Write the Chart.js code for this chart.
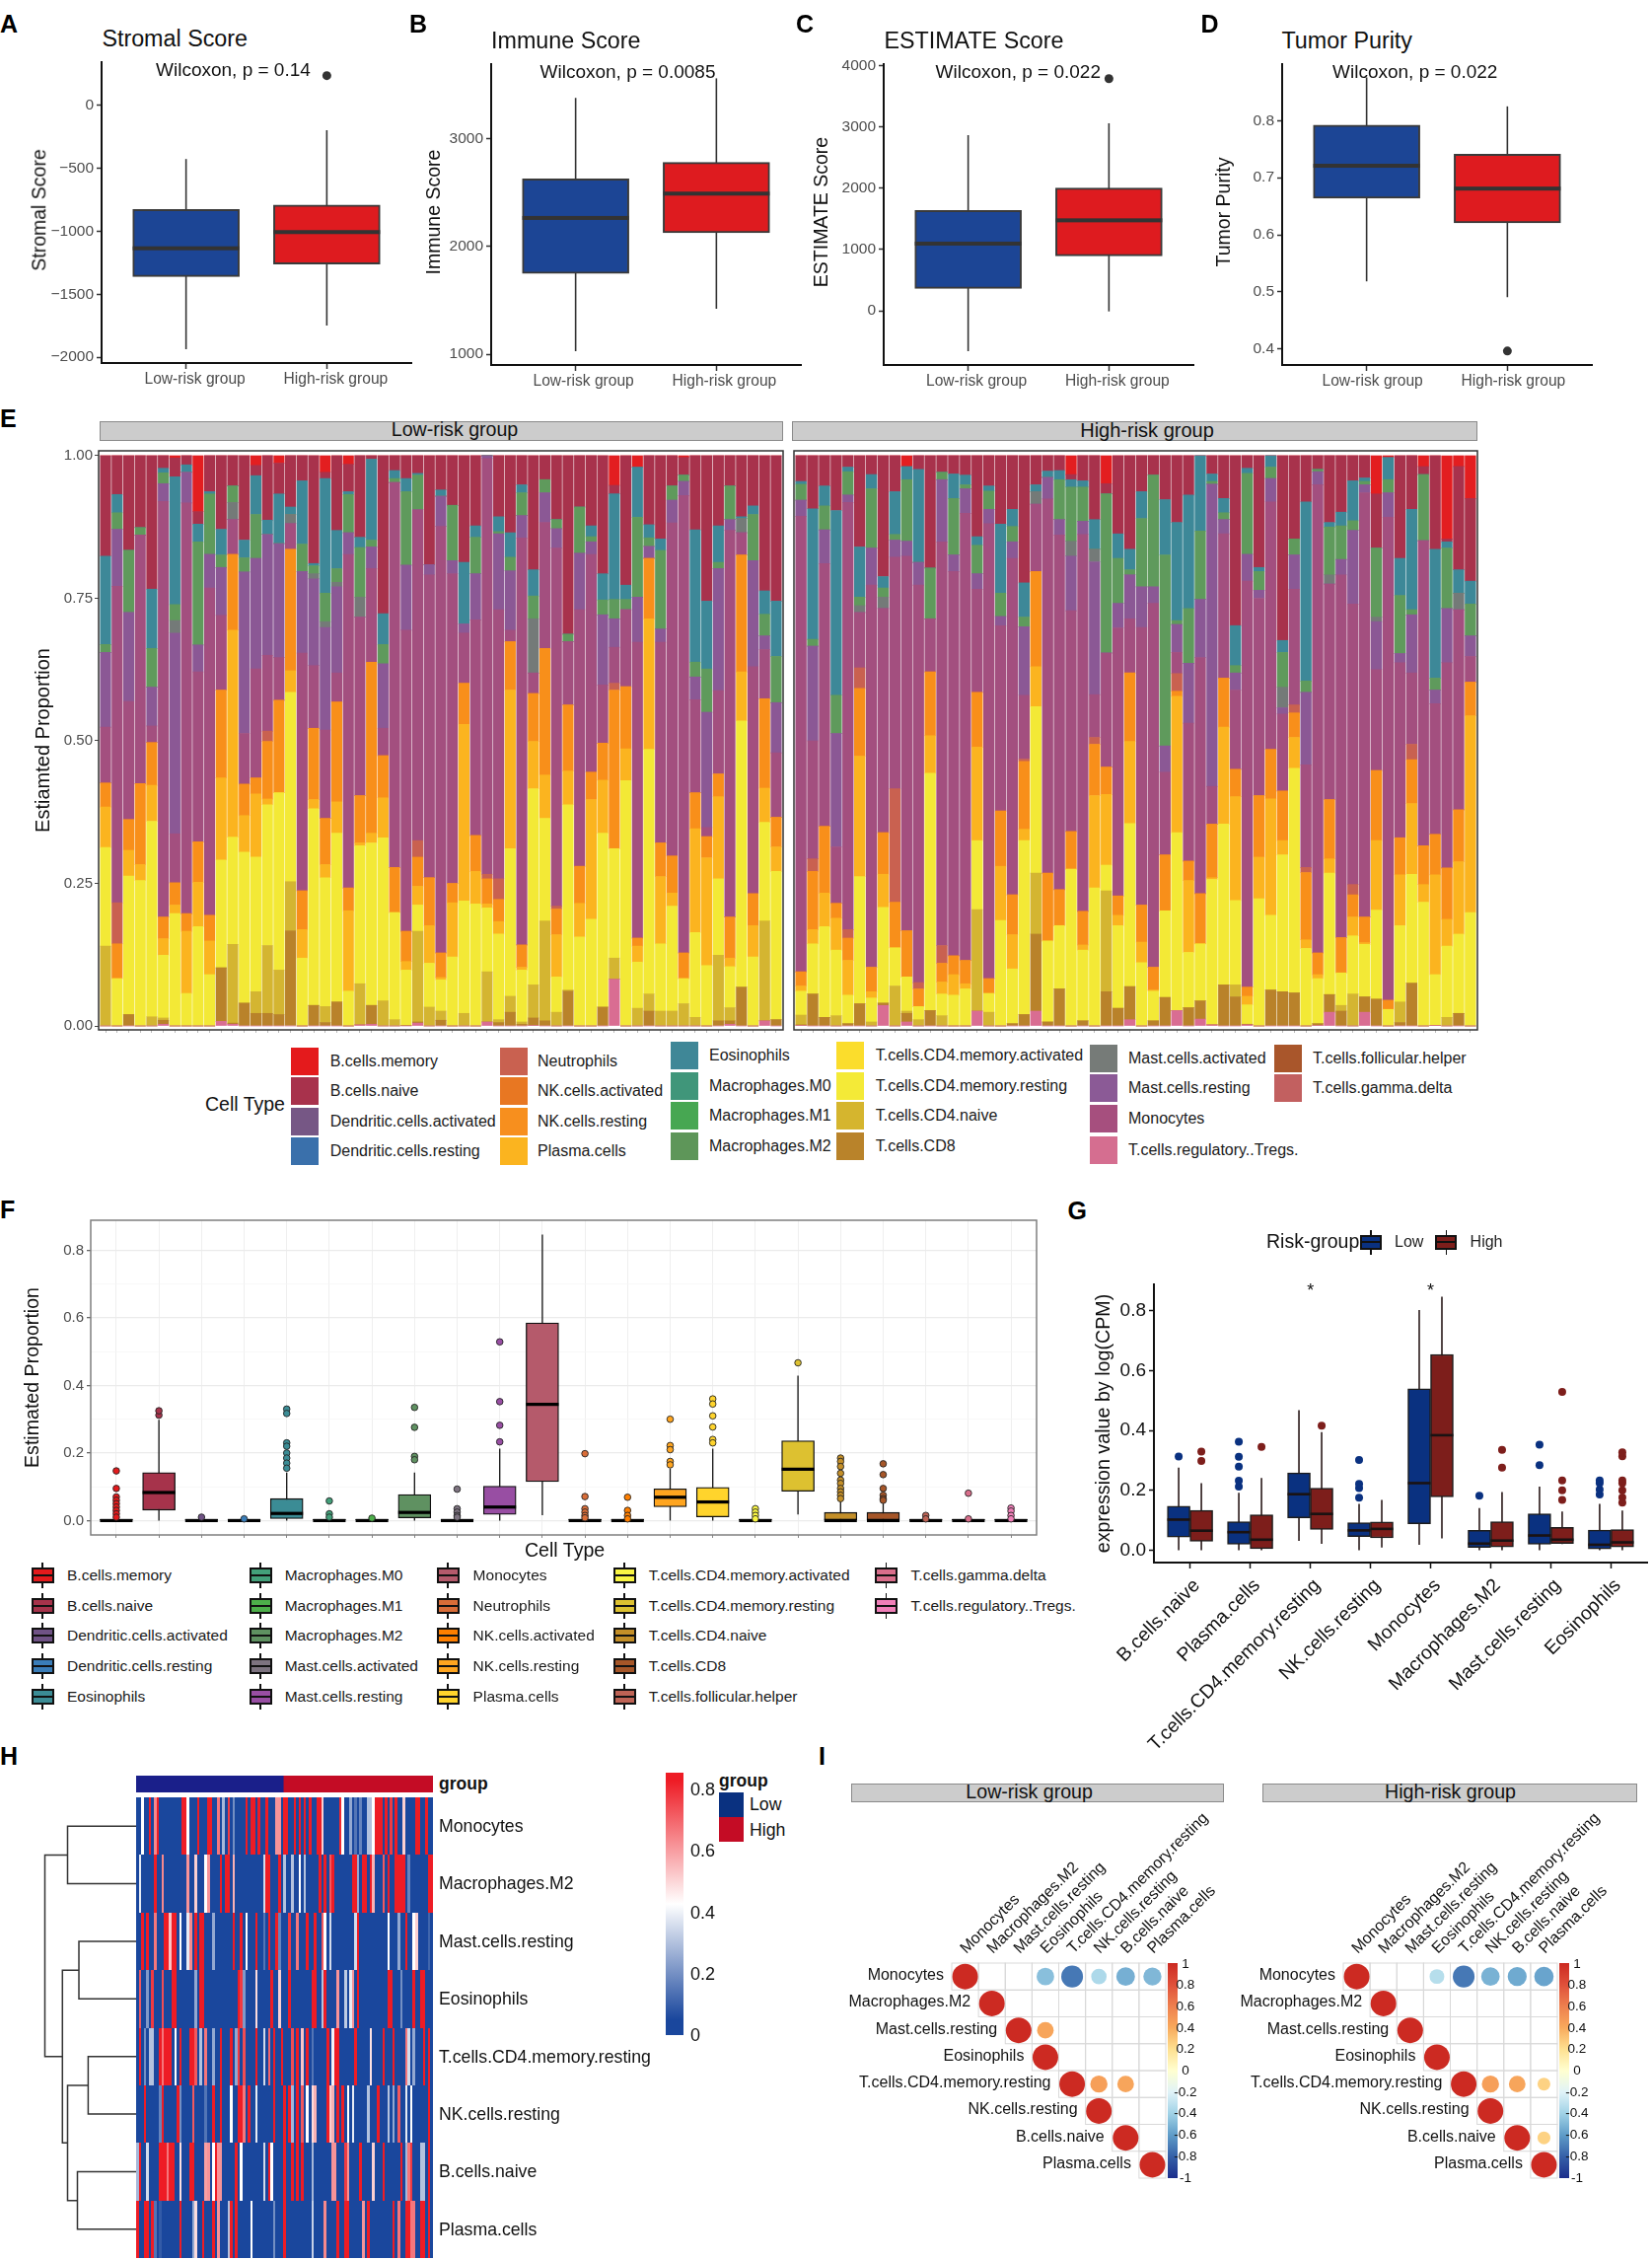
<!DOCTYPE html>
<html><head><meta charset="utf-8">
<script src="https://cdn.jsdelivr.net/npm/chart.js@4"></script>
<style>
html,body{margin:0;background:#fff}
#page{position:relative;width:1675px;height:2291px;overflow:hidden;background:#fff}
canvas{position:absolute}
.t{position:absolute;white-space:nowrap;font-family:"Liberation Sans";line-height:1}
.b{position:absolute}
</style></head><body><div id="page"></div>
<script>
/* ---------- DATA: panels A-D, [low whisker, q1, median, q3, high whisker] ---------- */
const groupLabels = ['Low-risk group','High-risk group'];
const stromalLow = [-1937,-1360,-1135,-826,-425];
const stromalHigh = [-1749,-1260,-1006,-790,-196];
const stromalOutliers = [[],[238]];
const stromalTicks = [-2000,-1500,-1000,-500,0];
const immuneLow = [1029,1750,2266,2629,3380];
const immuneHigh = [1423,2128,2492,2781,3562];
const immuneOutliers = [[],[]];
const immuneTicks = [1000,2000,3000];
const estimateLow = [-661,366,1097,1640,2871];
const estimateHigh = [-11,898,1478,2005,3065];
const estimateOutliers = [[],[3795]];
const estimateTicks = [0,1000,2000,3000,4000];
const purityLow = [.5185,.664,.721,.792,.8757];
const purityHigh = [.4908,.621,.681,.741,.825];
const purityOutliers = [[],[.3965]];
const purityTicks = [.4,.5,.6,.7,.8];

/* ---------- DATA: panel E, upper edge of each layer read per sample (bottom to top):
   Tregs, CD8, CD4 naive, CD4 mem resting, Plasma, NK resting, Neutrophils, Monocytes,
   Mast resting, Mast activated, M2, Eosinophils, B naive; B memory fills to 1 ---------- */
const lowRiskEdges = [
[0,0,.14,.313,.384,.426,.426,.524,.655,.655,.669,.824,1],
[0,0,0,.083,.083,.144,.216,.771,.871,.871,.9,.932,1],
[0,.02,.02,.263,.308,.362,.362,.569,.725,.725,.834,.834,1],
[0,0,0,.255,.283,.425,.425,.861,.861,.861,.874,.874,1],
[0,0,.016,.359,.422,.497,.497,.526,.594,.594,.662,.766,1],
[.003,.01,.014,.124,.153,.191,.191,.92,.951,.951,.97,.978,1],
[0,0,0,.197,.212,.251,.251,.337,.689,.711,.739,.963,.996],
[0,0,0,.057,.166,.197,.197,.917,.971,.971,.971,.984,1],
[0,0,0,.174,.252,.323,.323,.621,.668,.668,.849,.88,.902],
[0,0,0,.09,.149,.194,.194,.768,.827,.827,.933,.937,1],
[.008,.102,.102,.291,.435,.589,.589,.72,.804,.804,.826,.871,1],
[.003,.005,.143,.331,.694,.827,.827,.888,.888,.918,.947,.947,1],
[0,.04,.04,.305,.369,.424,.424,.513,.796,.796,.821,.852,1],
[0,.022,.06,.296,.407,.435,.435,.626,.82,.82,.897,.965,.983],
[0,.022,.141,.388,.398,.499,.517,.65,.862,.862,.862,.887,1],
[0,.02,.098,.409,.409,.571,.571,.646,.846,.846,.846,.933,.987],
[0,.167,.253,.585,.623,.836,.836,.881,.881,.897,.897,.91,1],
[0,0,0,.119,.169,.237,.237,.654,.797,.797,.845,.956,1],
[0,.036,.036,.381,.397,.522,.522,.632,.784,.793,.807,.811,1],
[0,.006,.034,.26,.283,.364,.364,.519,.699,.709,.759,.96,.971],
[0,.042,.042,.338,.393,.568,.568,.619,.77,.778,.802,.869,1],
[0,0,0,.061,.202,.242,.242,.827,.865,.865,.932,.937,.985],
[.002,.002,.074,.316,.321,.404,.404,.717,.717,.752,.839,.857,1],
[.003,.036,.036,.321,.338,.638,.638,.802,.84,.84,.852,.994,1],
[0,0,.044,.33,.4,.474,.474,.522,.635,.635,.669,.723,1],
[0,0,.011,.199,.199,.278,.278,.953,.953,.953,.96,.974,1],
[0,.001,.001,.098,.113,.166,.166,.694,.808,.808,.937,.96,1],
[.005,.007,.166,.212,.245,.296,.325,.905,.905,.905,.966,.969,1],
[0,0,.033,.11,.176,.26,.26,.791,.809,.809,.809,.809,1],
[0,.01,.026,.081,.085,.128,.128,.876,.929,.929,.929,.94,1],
[0,0,0,.121,.216,.25,.25,.793,.816,.816,.913,.913,1],
[0,0,.022,.219,.529,.601,.601,.689,.705,.705,.705,.813,1],
[0,0,0,.214,.271,.334,.334,.712,.793,.793,.857,.877,1],
[.007,.007,.095,.207,.214,.258,.266,.995,1,1,1,1,1],
[0,.006,.011,.161,.183,.222,.258,.73,.863,.863,.867,.893,1],
[0,.024,.052,.311,.589,.674,.674,.694,.798,.798,.822,.865,1],
[0,.003,.007,.098,.103,.142,.142,.856,.895,.895,.935,.949,1],
[.001,.014,.072,.416,.499,.583,.583,.619,.619,.714,.754,.8,1],
[0,.009,.184,.364,.44,.662,.662,.883,.935,.935,.958,.958,1],
[0,0,.024,.086,.16,.205,.21,.838,.872,.872,.888,.888,1],
[0,.061,.063,.388,.447,.563,.563,.674,.674,.674,.687,.687,1],
[0,0,0,.156,.215,.28,.28,.73,.829,.829,.91,.91,1],
[0,0,0,.187,.397,.445,.445,.827,.849,.849,.858,.877,1],
[0,.033,.033,.338,.431,.496,.496,.598,.721,.721,.747,.793,1],
[.082,.082,.119,.311,.311,.589,.601,.664,.714,.714,.748,.933,.948],
[0,0,0,.43,.486,.595,.595,.73,.73,.73,.748,.773,1],
[0,0,.031,.112,.14,.154,.154,.673,.752,.752,.892,.98,.98],
[0,.026,.056,.485,.714,.82,.82,.82,.841,.841,.856,.879,1],
[0,0,.026,.144,.262,.321,.321,.673,.696,.696,.834,.854,1],
[0,0,.026,.21,.233,.298,.298,.882,.922,.922,.947,.947,1],
[0,0,.039,.083,.083,.128,.128,.93,.955,.955,.966,.966,.997],
[0,0,.015,.164,.346,.409,.409,.572,.612,.612,.638,.87,1],
[0,0,0,.106,.295,.332,.332,.348,.55,.55,.626,.745,1],
[0,.009,.124,.258,.402,.442,.442,.588,.802,.802,.813,.877,1],
[.003,.009,.032,.104,.119,.191,.191,.869,.888,.888,.947,.947,1],
[0,.068,.068,.535,.621,.826,.826,.865,.865,.89,.89,.893,1],
[0,0,0,.121,.176,.232,.232,.63,.816,.816,.897,.912,1],
[.009,.009,.184,.357,.417,.574,.574,.66,.684,.684,.722,.763,1],
[0,.011,.011,.271,.314,.366,.366,.479,.567,.567,.648,.745,1]];
const highRiskEdges = [
[.001,.002,.019,.061,.07,.095,.095,.894,.922,.922,.95,.955,1],
[0,.056,.056,.144,.169,.271,.293,.5,.666,.666,.678,.907,1],
[0,.015,.015,.174,.233,.35,.35,.811,.87,.87,.912,.947,1],
[0,0,.018,.133,.189,.215,.215,.314,.513,.513,.58,.904,1],
[0,.004,.004,.054,.115,.154,.169,.918,.931,.931,.972,.98,1],
[0,.039,.039,.262,.473,.592,.628,.725,.725,.737,.752,.84,1],
[0,0,.007,.049,.06,.103,.103,.773,.838,.838,.942,.967,1],
[.036,.04,.04,.208,.266,.339,.339,.732,.732,.752,.768,.788,1],
[0,0,.07,.137,.137,.217,.416,.822,.852,.852,.862,.937,1],
[.007,.022,.026,.086,.086,.167,.167,.824,.85,.85,.958,.981,.981],
[0,0,.011,.034,.034,.065,.076,.773,.813,.813,.813,.976,1],
[0,.027,.027,.443,.509,.621,.621,.714,.714,.714,.803,.803,1],
[0,0,.018,.056,.077,.11,.141,.849,.958,.958,.971,.971,1],
[0,0,0,.054,.09,.123,.123,.797,.826,.826,.925,.968,1],
[0,0,0,.065,.074,.115,.115,.899,.942,.942,.949,.966,1],
[.026,.026,.204,.325,.489,.585,.585,.766,.793,.793,.843,.858,1],
[0,0,.024,.057,.057,.083,.083,.881,.906,.906,.938,.947,1],
[0,0,0,.185,.28,.377,.377,.702,.718,.718,.759,.88,1],
[0,.004,.004,.1,.16,.23,.23,.82,.849,.849,.876,.906,1],
[0,.02,.02,.325,.345,.464,.468,.58,.7,.7,.717,.777,1],
[.026,.161,.268,.56,.63,.797,.797,.915,.915,.937,.937,.949,1],
[0,.007,.007,.149,.149,.268,.268,.924,.962,.962,.962,.973,1],
[0,.065,.065,.176,.176,.239,.239,.861,.888,.888,.958,.974,1],
[0,0,0,.275,.275,.341,.341,.728,.824,.85,.945,.958,.967],
[0,.009,.009,.133,.142,.201,.201,.862,.885,.885,.945,.956,1],
[0,0,0,.242,.404,.494,.506,.581,.814,.836,.836,.888,1],
[0,.06,.237,.282,.406,.454,.454,.654,.654,.654,.933,.933,.951],
[0,.031,.031,.176,.194,.228,.228,.698,.741,.741,.82,.863,1],
[.011,.069,.069,.355,.499,.619,.619,.714,.791,.791,.8,.836,1],
[0,0,0,.111,.147,.212,.212,.699,.77,.77,.89,.937,1],
[0,.009,.009,.061,.063,.103,.103,.741,.77,.77,.966,.966,1],
[0,.05,.05,.202,.202,.3,.3,.445,.491,.491,.826,.923,1],
[.027,.027,.027,.339,.578,.587,.618,.655,.704,.704,.711,.883,1],
[0,.032,.032,.129,.255,.289,.289,.531,.636,.636,.732,.931,1],
[.012,.044,.044,.144,.144,.232,.232,.646,.748,.748,.868,1,1],
[.002,.002,.002,.257,.26,.354,.354,.42,.95,.95,.955,.968,1],
[0,.072,.072,.354,.524,.61,.61,.863,.888,.888,.9,.925,1],
[0,.051,.072,.22,.402,.45,.45,.589,.619,.619,.632,.702,1],
[.002,.003,.003,.037,.052,.068,.068,.78,.827,.827,.969,.978,1],
[0,0,0,.223,.296,.404,.404,.75,.764,.764,.797,.804,1],
[0,.063,.063,.194,.398,.485,.485,.919,.96,.96,.98,1,1],
[0,.06,.06,.3,.325,.412,.412,.547,.558,.594,.655,.676,1],
[0,.058,.058,.452,.506,.549,.563,.766,.826,.826,.854,.854,1],
[0,0,0,.136,.151,.269,.278,.458,.585,.585,.605,.919,1],
[.001,.004,.004,.083,.09,.128,.128,.949,.972,.972,.976,.976,1],
[.024,.055,.055,.268,.293,.397,.397,.775,.775,.791,.875,.883,1],
[0,.026,.036,.093,.093,.155,.155,.791,.818,.818,.877,.901,1],
[0,0,.056,.158,.191,.23,.248,.74,.869,.869,.886,.956,1],
[.024,.051,.051,.143,.146,.191,.191,.935,.949,.949,.955,.961,1],
[0,.047,.047,.203,.325,.448,.448,.625,.709,.717,.838,.838,.933],
[0,0,0,.029,.029,.045,.045,.892,.935,.935,.958,.997,.997],
[0,.006,.042,.176,.265,.33,.33,.637,.653,.653,.755,.82,1],
[0,.075,.075,.266,.39,.467,.494,.619,.721,.721,.73,.906,1],
[0,0,0,.217,.248,.316,.316,.851,.851,.851,.967,.967,.981],
[.001,.001,.001,.09,.265,.336,.336,.565,.589,.589,.61,.836,1],
[0,0,.015,.14,.187,.277,.277,.637,.732,.732,.838,.849,.854],
[0,.022,.022,.161,.288,.379,.379,.73,.73,.759,.759,.8,.981],
[0,0,0,.199,.544,.603,.603,.648,.684,.684,.74,.78,.925]];
const stackColors = ['#D96D92','#B9822A','#D4B531','#F3E936','#FBB41F','#F88F1A','#C96150','#A34F7F','#8B5895','#747A78','#5F9A5C','#3D8898','#A8324C','#E31E20'];

/* ---------- DATA: panel F ---------- */
const cellTypes = ['B.cells.memory','B.cells.naive','Dendritic.cells.activated','Dendritic.cells.resting','Eosinophils','Macrophages.M0','Macrophages.M1','Macrophages.M2','Mast.cells.activated','Mast.cells.resting','Monocytes','Neutrophils','NK.cells.activated','NK.cells.resting','Plasma.cells','T.cells.CD4.memory.activated','T.cells.CD4.memory.resting','T.cells.CD4.naive','T.cells.CD8','T.cells.follicular.helper','T.cells.gamma.delta','T.cells.regulatory..Tregs.'];
const cellColors = ['#E41A1C','#A6334B','#6F5285','#3A7DB8','#3B8C95','#43A07A','#4DAF4A','#5F9161','#7D7380','#984EA3','#B55A6B','#D96D38','#FF7F00','#FFA51F','#FFD42C','#F9F544','#DDC130','#C48F28','#A65628','#BE6355','#D96E8B','#F07FB8'];
const fWhiskerLow = [0,0,0,0,0,0,0,0,0,0,.016,0,0,0,0,0,.018,0,0,0,0,0];
const fQ1 = [0,.031,0,0,.006,0,0,.008,0,.018,.115,0,0,.041,.011,0,.087,0,0,0,0,0];
const fMedian = [0,.083,0,0,.021,0,0,.024,0,.04,.344,0,0,.069,.055,0,.152,0,0,0,0,0];
const fQ3 = [.003,.142,.003,.003,.065,.003,.003,.077,.003,.102,.585,.003,.003,.094,.098,.003,.236,.024,.024,.003,.003,.003];
const fWhiskerHigh = [.003,.298,.003,.003,.142,.003,.003,.142,.003,.213,.847,.003,.003,.154,.213,.003,.429,.056,.056,.003,.003,.003];
const fOutliers = [[.147,.095,.07,.06,.05,.04,.03,.02,.01],[.312,.325],[.01],[.005],[.33,.317,.23,.22,.2,.185,.17,.155],[.058,.02,.01],[.007],[.335,.276,.19,.18],[.093,.035,.025,.015,.01],[.529,.352,.282,.233],[],[.198,.071,.035,.025,.015,.008],[.069,.03,.015,.005],[.3,.222,.21,.175,.165],[.36,.345,.31,.277,.24,.23],[.035,.025,.015,.005],[.467],[.185,.175,.16,.14,.12,.11,.095,.085,.075,.065],[.168,.136,.095,.075,.065,.06],[.015,.005],[.081,.005],[.037,.028,.015,.005]];

/* ---------- DATA: panel G ---------- */
const gCategories = ['B.cells.naive','Plasma.cells','T.cells.CD4.memory.resting','NK.cells.resting','Monocytes','Macrophages.M2','Mast.cells.resting','Eosinophils'];
const gLowStats = [[0,.044,.102,.147,.276],[0,.02,.06,.095,.192],[.031,.108,.187,.258,.468],[0,.045,.066,.092,.155],[.018,.088,.224,.539,.802],[0,.009,.022,.066,.141],[0,.02,.049,.121,.212],[0,.004,.018,.067,.155]];
const gHighStats = [[0,.03,.065,.133,.224],[0,.005,.035,.118,.241],[.021,.069,.121,.207,.394],[.009,.041,.071,.094,.168],[.039,.178,.384,.654,.847],[0,.011,.032,.095,.194],[.02,.022,.035,.076,.129],[0,.011,.026,.069,.132]];
const gLowOutliers = [[.313],[.212,.232,.279,.312,.362],[],[.175,.207,.221,.301],[],[.182],[.284,.352],[.186,.202,.224,.233]];
const gHighOutliers = [[.298,.329],[.345],[.416],[],[],[.276,.335],[.168,.2,.233,.529],[.159,.176,.2,.224,.233,.314,.327]];

/* ---------- DATA: panel H, [sample column, value]; every other cell reads as the base value ---------- */
const heatBase = .05;
const heatMonocytes = [[2,.42],[5,.82],[7,.62],[8,.82],[18,.82],[19,.82],[20,.42],[24,.82],[28,.82],[29,.82],[32,.65],[34,.28],[36,.75],[38,.2],[43,.82],[45,.82],[46,.82],[48,.82],[51,.82],[55,.6],[56,.6],[58,.82],[59,.82],[62,.82],[64,.82],[66,.82],[68,.82],[71,.82],[72,.82],[73,.5],[80,.78],[81,.42],[84,.25],[86,.15],[88,.18],[91,.3],[92,.3],[93,.42],[94,.82],[95,.82],[96,.82],[98,.82],[100,.75],[102,.82],[105,.5],[110,.82],[111,.82],[114,.8]];
const heatMacrophagesM2 = [[1,.38],[7,.82],[10,.62],[20,.6],[23,.5],[27,.42],[28,.6],[33,.82],[35,.82],[36,.82],[38,.55],[50,.35],[51,.82],[52,.82],[56,.82],[58,.3],[61,.3],[64,.42],[66,.3],[72,.82],[74,.82],[76,.7],[77,.82],[85,.82],[86,.82],[87,.25],[89,.82],[90,.82],[92,.82],[93,.55],[97,.7],[99,.82],[102,.82],[103,.82],[104,.82],[105,.82],[107,.18],[115,.82],[116,.82]];
const heatMastResting = [[2,.82],[4,.82],[7,.65],[11,.82],[12,.82],[13,.52],[14,.82],[15,.82],[17,.42],[20,.38],[21,.62],[23,.82],[25,.82],[26,.82],[30,.25],[38,.82],[41,.82],[43,.42],[47,.82],[50,.15],[52,.82],[55,.82],[56,.18],[60,.75],[63,.65],[67,.82],[70,.82],[73,.7],[74,.42],[76,.35],[86,.35],[87,.82],[99,.42],[103,.25],[106,.82],[109,.42],[110,.5],[115,.12]];
const heatEosinophils = [[1,.7],[4,.22],[6,.75],[10,.72],[14,.82],[15,.82],[23,.25],[25,.82],[26,.82],[40,.8],[41,.75],[42,.22],[47,.48],[53,.82],[56,.5],[60,.82],[69,.82],[70,.82],[73,.3],[74,.82],[79,.6],[82,.32],[84,.38],[85,.6],[87,.82],[99,.82],[100,.82],[104,.2],[109,.82],[112,.82],[113,.82]];
const heatCD4Resting = [[1,.82],[3,.2],[5,.3],[6,.3],[9,.82],[10,.65],[11,.82],[12,.82],[13,.82],[15,.42],[17,.82],[21,.82],[22,.82],[23,.7],[25,.3],[27,.65],[30,.25],[33,.82],[37,.82],[39,.25],[40,.75],[42,.72],[47,.82],[50,.35],[52,.68],[54,.82],[57,.82],[61,.72],[63,.82],[65,.52],[67,.82],[69,.15],[75,.82],[77,.4],[78,.82],[79,.82],[86,.82],[92,.47],[97,.82],[101,.82],[106,.65],[107,.35],[109,.25],[113,.82],[115,.82]];
const heatNKResting = [[3,.82],[9,.18],[10,.82],[16,.82],[17,.2],[22,.7],[27,.15],[30,.82],[33,.82],[37,.42],[40,.82],[41,.82],[42,.65],[44,.82],[47,.38],[54,.82],[58,.82],[60,.82],[61,.28],[63,.82],[65,.7],[67,.42],[69,.48],[70,.55],[75,.82],[76,.5],[77,.55],[79,.82],[81,.82],[83,.42],[85,.38],[91,.3],[95,.82],[99,.3],[101,.25],[103,.7],[106,.38],[108,.42],[115,.82]];
const heatBNaive = [[0,.28],[1,.82],[4,.35],[9,.82],[10,.82],[11,.82],[12,.65],[13,.82],[14,.82],[17,.47],[21,.82],[22,.82],[27,.58],[28,.6],[30,.42],[31,.82],[32,.6],[33,.6],[39,.82],[41,.42],[50,.35],[52,.82],[53,.42],[58,.82],[61,.82],[63,.82],[65,.82],[69,.28],[77,.6],[78,.6],[82,.75],[83,.6],[88,.82],[93,.5],[97,.82],[104,.82],[106,.28],[107,.65],[108,.75],[112,.3],[113,.3],[115,.82]];
const heatPlasma = [[0,.82],[3,.82],[4,.82],[6,.82],[7,.15],[9,.1],[17,.82],[22,.25],[23,.48],[26,.82],[30,.82],[32,.6],[36,.3],[37,.82],[39,.82],[45,.42],[54,.2],[58,.82],[69,.33],[74,.62],[79,.82],[82,.82],[83,.82],[89,.6],[91,.82],[101,.82],[103,.65],[106,.82],[107,.82],[108,.65],[109,.65],[112,.82],[113,.82],[115,.82]];
const heatRows = [heatMonocytes,heatMacrophagesM2,heatMastResting,heatEosinophils,heatCD4Resting,heatNKResting,heatBNaive,heatPlasma];
const heatLabels = ['Monocytes','Macrophages.M2','Mast.cells.resting','Eosinophils','T.cells.CD4.memory.resting','NK.cells.resting','B.cells.naive','Plasma.cells'];
const lowSampleCount = 58, highSampleCount = 59;
/* dendrogram merges: [y of branch A, height of A, y of branch B, height of B, merge height] */
const dendroMerges = [[.5,0,1.5,0,69.5],[2.5,0,3.5,0,58],[4.5,0,5.5,0,48.6],[6.5,0,7.5,0,59.5],[5,48.6,7,59.5,69.5],[3,58,6,69.5,74.7],[1,69.5,4.5,74.7,92.5]];

/* ---------- DATA: panel I, [row, column, correlation] ---------- */
const corrLow = [[0,0,1],[0,3,-.47],[0,4,-.72],[0,5,-.36],[0,6,-.53],[0,7,-.5],[1,1,1],[2,2,1],[2,3,.42],[3,3,1],[4,4,1],[4,5,.45],[4,6,.42],[5,5,1],[6,6,1],[7,7,1]];
const corrHigh = [[0,0,1],[0,3,-.33],[0,4,-.72],[0,5,-.52],[0,6,-.55],[0,7,-.57],[1,1,1],[2,2,1],[3,3,1],[4,4,1],[4,5,.45],[4,6,.42],[4,7,.25],[5,5,1],[6,6,1],[6,7,.25],[7,7,1]];
const corrScaleLabels = ['1','0.8','0.6','0.4','0.2','0','-0.2','-0.4','-0.6','-0.8','-1'];

/* ---------- helpers ---------- */
Chart.defaults.font.family = '"Liberation Sans"';
Chart.defaults.animation = false;
Chart.defaults.plugins.legend.display = false;
Chart.defaults.plugins.tooltip.enabled = false;
const page = document.getElementById('page');
const FONT = '"Liberation Sans"';
function txt(x,y,s,o={}){const d=document.createElement('div');d.className='t';d.textContent=s;
  d.style.left=x+'px';d.style.top=y+'px';d.style.fontSize=(o.size||16)+'px';d.style.color=o.color||'#111';
  if(o.weight)d.style.fontWeight=o.weight;
  const tx=o.align==='center'?'-50%':o.align==='right'?'-100%':'0';
  d.style.transform=`translate(${tx},-50%)`+(o.rotate?` rotate(${o.rotate}deg)`:'');page.appendChild(d);return d;}
function box(x,y,w,h,st={}){const d=document.createElement('div');d.className='b';d.style.left=x+'px';d.style.top=y+'px';d.style.width=w+'px';d.style.height=h+'px';d.style.boxSizing='border-box';Object.assign(d.style,st);page.appendChild(d);return d;}
function chartAt(plot,m,cfg){
  const c=document.createElement('canvas');const W=plot.x1-plot.x0+m.l+m.r,H=plot.y1-plot.y0+m.t+m.b;
  c.width=W;c.height=H;c.style.left=(plot.x0-m.l)+'px';c.style.top=(plot.y0-m.t)+'px';page.appendChild(c);
  const o=cfg.options=cfg.options||{};o.responsive=false;o.animation=false;o.events=[];
  const sc=o.scales||{};let L=false,R=false,B=false;
  for(const k in sc){const s=sc[k];if(s.display===false)continue;
    const pos=s.position||(k==='x'?'bottom':'left');
    if(pos==='left'){L=true;s.afterFit=a=>{a.width=m.l;a.paddingLeft=a.paddingRight=a.paddingTop=a.paddingBottom=0;};}
    if(pos==='right'){R=true;s.afterFit=a=>{a.width=m.r;a.paddingLeft=a.paddingRight=a.paddingTop=a.paddingBottom=0;};}
    if(pos==='bottom'){B=true;s.afterFit=a=>{a.height=m.b;a.paddingLeft=a.paddingRight=a.paddingTop=a.paddingBottom=0;};}
  }
  o.layout={autoPadding:false,padding:{left:L?0:m.l,right:R?0:m.r,top:m.t,bottom:B?0:m.b}};
  return new Chart(c,cfg);
}
const fixedTicks=vals=>(s=>{s.ticks=vals.map(v=>({value:v}));});
const yTitle=(text,size,xc,leftEdge,color)=>({display:true,text,color:color||'#111',font:{size},padding:{top:xc-leftEdge-size*0.6,bottom:0}});
const minusFmt=v=>String(v).replace('-','\u2212');
function boxPlugin(st){return {id:'boxdraw',
  beforeDatasetsDraw(ch){const g=ch.ctx,y=ch.scales.y;
    ch.data.datasets.forEach((d,di)=>{ch.getDatasetMeta(di).data.forEach((el,i)=>{const s=d.stats[i];
      g.save();g.strokeStyle=st.whisker;g.lineWidth=st.whiskerW;g.beginPath();g.moveTo(el.x,y.getPixelForValue(s[0]));g.lineTo(el.x,y.getPixelForValue(s[4]));g.stroke();g.restore();});});},
  afterDatasetsDraw(ch){const g=ch.ctx,y=ch.scales.y;
    ch.data.datasets.forEach((d,di)=>{ch.getDatasetMeta(di).data.forEach((el,i)=>{const s=d.stats[i];
      g.save();g.fillStyle=st.median;const p=y.getPixelForValue(s[2]);g.fillRect(el.x-el.width/2,p-st.medianW/2,el.width,st.medianW);
      (d.outliers[i]||[]).forEach(v=>{g.beginPath();g.arc(el.x,y.getPixelForValue(v),st.r,0,Math.PI*2);
        g.fillStyle=st.outFill||(Array.isArray(d.backgroundColor)?d.backgroundColor[i]:d.backgroundColor);g.fill();
        if(st.outStroke){g.strokeStyle=st.outStroke;g.lineWidth=st.outStrokeW;g.stroke();}});
      g.restore();});});}};}
const framePlugin=(color,w)=>({id:'frame',afterDraw(ch){const a=ch.chartArea,g=ch.ctx;g.save();g.strokeStyle=color;g.lineWidth=w;g.strokeRect(a.left,a.top,a.right-a.left,a.bottom-a.top);g.restore();}});

/* ---------- panels A-D ---------- */
function scorePanel(p){
  const plot={x0:p.x0,x1:p.x0+314.5,y0:p.y0,y1:p.y1},m={l:100,r:8,t:4,b:40};
  chartAt(plot,m,{type:'bar',plugins:[boxPlugin({whisker:'#333',whiskerW:1.6,median:'#333',medianW:4,r:4.5,outFill:'#333'})],
    data:{datasets:[{data:[{x:1,y:[p.low[1],p.low[3]]},{x:2,y:[p.high[1],p.high[3]]}],stats:[p.low,p.high],outliers:p.outliers,
      backgroundColor:['#1C4595','#DE1B1F'],borderColor:'#3A3A3A',borderWidth:2,borderSkipped:false,barThickness:108}]},
    options:{scales:{
      x:{type:'linear',offset:false,min:.4,max:2.6,afterBuildTicks:fixedTicks([1,2]),
         border:{color:'#111',width:2},grid:{offset:false,drawOnChartArea:false,tickLength:6,tickColor:'#333',tickWidth:1.5},
         ticks:{autoSkip:false,maxRotation:0,minRotation:0,labelOffset:p.xOff,padding:1.5,color:'#4D4D4D',font:{size:15.6},callback:v=>groupLabels[v-1]}},
      y:{min:p.ymin,max:p.ymax,afterBuildTicks:fixedTicks(p.ticks),
         border:{color:'#111',width:2},grid:{drawOnChartArea:false,tickLength:5,tickColor:'#333',tickWidth:1.5},
         ticks:{autoSkip:false,padding:3,color:'#4D4D4D',font:{size:15.5},callback:p.fmt||minusFmt}}}}});
  txt(p.x0,p.titleY,p.title,{size:23.3,color:'#111'});
  txt(p.wx,p.wy,p.wtext,{size:19,color:'#111'});
  txt(p.ytitleX,p.ytitleY,p.ytitle,{size:19.5,align:'center',rotate:-90});
}
scorePanel({x0:103.4,y0:63,y1:368,ymin:-2047,ymax:345,ticks:stromalTicks,low:stromalLow,high:stromalHigh,outliers:stromalOutliers,ytitle:'Stromal Score',ytitleX:40,ytitleY:212.5,title:'Stromal Score',titleY:40,wx:158,wy:70,wtext:'Wilcoxon, p = 0.14',xOff:9});
scorePanel({x0:498,y0:65,y1:370,ymin:901,ymax:3694,ticks:immuneTicks,low:immuneLow,high:immuneHigh,outliers:immuneOutliers,ytitle:'Immune Score',ytitleX:440,ytitleY:215,title:'Immune Score',titleY:42,wx:547.5,wy:72,wtext:'Wilcoxon, p = 0.0085',xOff:8});
scorePanel({x0:896.4,y0:65,y1:370,ymin:-887,ymax:4032,ticks:estimateTicks,low:estimateLow,high:estimateHigh,outliers:estimateOutliers,ytitle:'ESTIMATE Score',ytitleX:833,ytitleY:215,title:'ESTIMATE Score',titleY:42,wx:948.6,wy:72,wtext:'Wilcoxon, p = 0.022',xOff:8.5});
scorePanel({x0:1299.5,y0:65,y1:370,ymin:.372,ymax:.899,ticks:purityTicks,low:purityLow,high:purityHigh,outliers:purityOutliers,ytitle:'Tumor Purity',ytitleX:1241,ytitleY:215,title:'Tumor Purity',titleY:42,wx:1351,wy:72,wtext:'Wilcoxon, p = 0.022',fmt:v=>v.toFixed(1),xOff:6});
[['A',0,24],['B',415,24],['C',807,24],['D',1217.6,24],['E',0,424],['F',0,1226],['G',1082.5,1227],['H',0,1780],['I',830,1780]].forEach(l=>txt(l[1],l[2],l[0],{size:25,weight:'bold',color:'#000'}));

/* ---------- panel E ---------- */
function stackPanel(edges,x0,x1,showY,thick){
  const n=edges.length;
  const datasets=stackColors.map((col,k)=>({data:edges.map((r,i)=>({x:i+1,y:Math.max(0,k===r.length?1-r[k-1]:r[k]-(k?r[k-1]:0))})),backgroundColor:col,borderWidth:0,barThickness:thick}));
  const pos=edges.map((r,i)=>i+1);
  const opts={scales:{
    x:{type:'linear',stacked:true,offset:false,min:.4,max:n+.6,afterBuildTicks:fixedTicks(pos),border:{display:false},
       grid:{offset:false,drawOnChartArea:false,tickLength:3,tickColor:'#BBB',tickWidth:1},ticks:{autoSkip:false,maxRotation:0,callback:()=>''}},
    y:{stacked:true,min:-.0069,max:1.0086,afterBuildTicks:fixedTicks([0,.25,.5,.75,1]),border:{display:false},
       grid:{drawOnChartArea:false,tickLength:showY?4:0,tickColor:'#444',tickWidth:1,drawTicks:showY},
       ticks:{display:showY,autoSkip:false,padding:2,color:'#4D4D4D',font:{size:15},callback:v=>v.toFixed(2)}}}};
  if(showY)opts.scales.y.title=yTitle('Estiamted Proportion',20,44,0);
  chartAt({x0,x1,y0:456.5,y1:1044},{l:showY?100:2,r:2,t:2,b:8},{type:'bar',plugins:[framePlugin('#333',1.5)],data:{datasets},options:opts});
}
stackPanel(lowRiskEdges,100,794,true,10.5);
stackPanel(highRiskEdges,804.7,1498.4,false,10.7);
const stripSt={background:'#CCCCCC',border:'1px solid #8A8A8A'};
box(101,427.4,693,20,stripSt);box(803,427.4,695,20,stripSt);
txt(461,436,'Low-risk group',{size:19.6,align:'center',color:'#111'});
txt(1163,436,'High-risk group',{size:20,align:'center',color:'#111'});
/* legend E */
const eLegendCols=[
 {sx:295,lx:334.7,ys:[1061.7,1092,1122.7,1153],items:[0,1,2,3]},
 {sx:506.5,lx:545,ys:[1061.7,1092,1122.7,1153],items:[11,12,13,14]},
 {sx:680,lx:719,ys:[1056,1086.7,1117.3,1148],items:[4,5,6,7]},
 {sx:847.5,lx:887.7,ys:[1056,1086.7,1117.3,1148],items:[15,16,17,18]},
 {sx:1104.8,lx:1144,ys:[1058.7,1089.3,1120,1151.7],items:[8,9,10,21]},
 {sx:1292,lx:1331,ys:[1058.7,1089.3],items:[19,20]}];
const eLegendColors={0:'#E41A1C',1:'#A8324C',2:'#765785',3:'#3A70AB',4:'#3F8797',5:'#40967A',6:'#47A752',7:'#5E9659',8:'#767B78',9:'#8B5A96',10:'#A64F7E',11:'#C96150',12:'#E87722',13:'#F78F1E',14:'#FBB41F',15:'#FBDD2C',16:'#F4EA37',17:'#D5B52E',18:'#B9832A',19:'#A9562B',20:'#C26060',21:'#D56E90'};
eLegendCols.forEach(c=>c.items.forEach((it,i)=>{box(c.sx,c.ys[i],28,28,{background:eLegendColors[it]});txt(c.lx,c.ys[i]+14,cellTypes[it],{size:16,color:'#1a1a1a'});}));
txt(208,1120,'Cell Type',{size:19.5,color:'#111'});

/* ---------- panel F ---------- */
const fIdx=cellTypes.map((c,i)=>i);
chartAt({x0:92.4,x1:1052,y0:1237,y1:1556},{l:92,r:4,t:4,b:8},{type:'bar',
  plugins:[boxPlugin({whisker:'#111',whiskerW:1.3,median:'#000',medianW:3.2,r:3.3,outStroke:'#222',outStrokeW:.9}),framePlugin('#7F7F7F',1.5)],
  data:{datasets:[{data:fIdx.map(i=>({x:i+1,y:[fQ1[i],fQ3[i]]})),stats:fIdx.map(i=>[fWhiskerLow[i],fQ1[i],fMedian[i],fQ3[i],fWhiskerHigh[i]]),outliers:fOutliers,backgroundColor:cellColors,borderColor:'#111',borderWidth:1.3,borderSkipped:false,barThickness:33}]},
  options:{scales:{
    x:{type:'linear',offset:false,min:.4,max:22.6,afterBuildTicks:fixedTicks(fIdx.map(i=>i+1)),border:{display:false},
       grid:{offset:false,color:'#EFEFEF',lineWidth:1,tickLength:3,tickColor:'#888'},ticks:{autoSkip:false,maxRotation:0,callback:()=>''}},
    y:{min:-.0426,max:.889,afterBuildTicks:fixedTicks([0,.1,.2,.3,.4,.5,.6,.7,.8]),border:{display:false},
       grid:{color:c=>Math.round(c.tick.value*10)%2?'#F5F5F5':'#EBEBEB',lineWidth:c=>Math.round(c.tick.value*10)%2?.7:1.3,tickLength:4,tickColor:c=>Math.round(c.tick.value*10)%2?'rgba(0,0,0,0)':'#666'},
       title:yTitle('Estimated Proportion',19.6,33.5,.4),
       ticks:{autoSkip:false,padding:3,color:'#4D4D4D',font:{size:15},callback:v=>Math.round(v*10)%2?'':v.toFixed(1)}}}}});
txt(572.6,1572,'Cell Type',{size:19.6,align:'center'});
const keyBox=(x,yc,w,h,col)=>{box(x+w/2-.8,yc-h/2-5,1.6,h+10,{background:'#111'});box(x,yc-h/2,w,h,{background:col,border:'2px solid #111'});box(x,yc-1,w,2,{background:'#111'});};
const fLegendCols=[{kx:31.5,lx:68,from:0,to:5},{kx:252.5,lx:288.7,from:5,to:10},{kx:442.7,lx:479.6,from:10,to:15},{kx:621.6,lx:657.7,from:15,to:20},{kx:886.8,lx:923.6,from:20,to:22}];
const fRowsY=[1597,1628,1658,1689,1720];
fLegendCols.forEach(c=>{for(let i=c.from;i<c.to;i++){const yc=fRowsY[i-c.from];keyBox(c.kx,yc,23,16,cellColors[i]);txt(c.lx,yc,cellTypes[i],{size:15.5,color:'#1a1a1a'});}});

/* ---------- panel G ---------- */
const gStyle={whisker:'#2A1A1A',whiskerW:1.6,median:'#1A1212',medianW:2.6,r:4};
chartAt({x0:1169.6,x1:1670,y0:1301.8,y1:1584},{l:70,r:4,t:4,b:210},{type:'bar',plugins:[boxPlugin(gStyle)],
  data:{datasets:[
    {data:gLowStats.map((s,i)=>({x:i+1,y:[s[1],s[3]]})),stats:gLowStats,outliers:gLowOutliers,backgroundColor:'#0A3180',borderColor:'#1C1C1C',borderWidth:1.5,borderSkipped:false,barThickness:23},
    {data:gHighStats.map((s,i)=>({x:i+1,y:[s[1],s[3]]})),stats:gHighStats,outliers:gHighOutliers,backgroundColor:'#7D1E1B',borderColor:'#1C1C1C',borderWidth:1.5,borderSkipped:false,barThickness:23}]},
  options:{scales:{
    x:{type:'linear',offset:false,min:.4,max:8.6,afterBuildTicks:fixedTicks(gCategories.map((c,i)=>i+1)),border:{color:'#111',width:2},
       grid:{offset:false,drawOnChartArea:false,tickLength:6,tickColor:'#111',tickWidth:1.5},
       ticks:{autoSkip:false,maxRotation:45,minRotation:45,labelOffset:7,padding:6,color:'#111',font:{size:19.5},callback:v=>gCategories[v-1]}},
    y:{min:-.0415,max:.888,afterBuildTicks:fixedTicks([0,.2,.4,.6,.8]),border:{color:'#111',width:2},
       grid:{drawOnChartArea:false,tickLength:5,tickColor:'#111',tickWidth:1.5},
       title:yTitle('expression value by log(CPM)',19.7,1119,1099.6),
       ticks:{autoSkip:false,padding:3,color:'#111',font:{size:19},callback:v=>v.toFixed(1)}}}}});
txt(1328.7,1308,'*',{size:18,align:'center'});txt(1450.5,1308,'*',{size:18,align:'center'});
txt(1284,1259,'Risk-group',{size:19.5});
keyBox(1379,1259,22,15,'#0A3180');txt(1414,1259,'Low',{size:16,color:'#222'});
keyBox(1455.4,1259,22,15,'#7D1E1B');txt(1490.6,1259,'High',{size:16,color:'#222'});

/* ---------- panel H ---------- */
const hexRgb=h=>[parseInt(h.slice(1,3),16),parseInt(h.slice(3,5),16),parseInt(h.slice(5,7),16)];
const ramp=(stops,v)=>{for(let i=0;i<stops.length-1;i++){const [a,ca]=stops[i],[b,cb]=stops[i+1];if(v<=b||i===stops.length-2){const t=Math.min(1,Math.max(0,(v-a)/(b-a)));const A=hexRgb(ca),B=hexRgb(cb);return `rgb(${A.map((x,j)=>Math.round(x+(B[j]-x)*t)).join(',')})`;}}};
const heatStops=[[0,'#1A479D'],[.06,'#1A479D'],[.42,'#FFFFFF'],[.8,'#EE1C25'],[.9,'#EE1C25']];
const colIdx=[...Array(lowSampleCount+highSampleCount).keys()];
const heatMatrix=heatRows.map(row=>{const a=colIdx.map(()=>heatBase);row.forEach(([c,v])=>{a[c]=v;});return a;});
/* cells are drawn from the bar elements' own scale positions, snapped to whole pixels so the thin stripes stay solid */
const snapHeat={id:'snapHeat',beforeDatasetsDraw(ch){const g=ch.ctx;g.save();
  ch.data.datasets.forEach((d,di)=>{ch.getDatasetMeta(di).data.forEach((el,i)=>{
    const a=Math.round(el.base),b=Math.round(el.x),t=Math.round(el.y-el.height/2),u=Math.round(el.y+el.height/2);
    g.fillStyle=d.backgroundColor[i];g.fillRect(a,t,Math.max(b-a,1),u-t);});});
  g.restore();return false;}};
chartAt({x0:138,x1:439.3,y0:1822,y1:2289.5},{l:2,r:240,t:1,b:1},{type:'bar',plugins:[snapHeat],
  data:{labels:heatLabels,datasets:colIdx.map(c=>({data:heatMatrix.map(()=>1),backgroundColor:heatMatrix.map(r=>ramp(heatStops,r[c])),borderWidth:0,barPercentage:1,categoryPercentage:1}))},
  options:{indexAxis:'y',scales:{
    x:{display:false,stacked:true,min:0,max:colIdx.length},
    y:{position:'right',stacked:true,offset:true,border:{display:false},grid:{display:false,drawTicks:false},ticks:{padding:6,labelOffset:1,color:'#111',font:{size:17.7}}}}}});
chartAt({x0:138,x1:439.3,y0:1799.7,y1:1817},{l:1,r:1,t:1,b:1},{type:'bar',
  data:{labels:['group'],datasets:[{data:[lowSampleCount],backgroundColor:'#1A1F8A',barPercentage:1,categoryPercentage:1},{data:[highSampleCount],backgroundColor:'#C40C25',barPercentage:1,categoryPercentage:1}]},
  options:{indexAxis:'y',scales:{x:{display:false,stacked:true,min:0,max:lowSampleCount+highSampleCount},y:{display:false,stacked:true}}}});
txt(445,1809,'group',{size:17.5,weight:'bold'});
chartAt({x0:45,x1:138,y0:1822,y1:2289.5},{l:2,r:2,t:2,b:2},{type:'scatter',
  data:{datasets:dendroMerges.map(([ya,ha,yb,hb,h])=>({data:[{x:ha,y:ya},{x:h,y:ya},{x:h,y:yb},{x:hb,y:yb}],showLine:true,borderColor:'#333',borderWidth:1.5,pointRadius:0,tension:0,clip:false}))},
  options:{scales:{x:{display:false,type:'linear',min:0,max:93,reverse:true},y:{display:false,type:'linear',min:0,max:8,reverse:true}}}});
box(675,1797,18,266,{background:'linear-gradient(to top,#1A479D 0%,#1A479D 6%,#FFFFFF 50%,#EE1C25 97%,#EE1C25 100%)'});
[['0.8',1813.6],['0.6',1876],['0.4',1938.6],['0.2',2001],['0',2063.4]].forEach(l=>txt(700,l[1],l[0],{size:18,color:'#111'}));
txt(729,1805.8,'group',{size:17.5,weight:'bold'});
box(729,1816.6,25,25,{background:'#0A3180'});box(729,1841.7,25,25,{background:'#C40C25'});
txt(760,1829.5,'Low',{size:17.7});txt(760,1855.6,'High',{size:17.7});

/* ---------- panel I ---------- */
const corrStops=[[-1,'#1C2E8C'],[-.8,'#3560A8'],[-.6,'#5F9CC8'],[-.4,'#A0D2E6'],[-.2,'#E0F3F8'],[0,'#FFFFD0'],[.2,'#FEE090'],[.4,'#F8A95C'],[.6,'#EE7F4E'],[.8,'#E0503A'],[1,'#CC2A22']];
function corrPanel(values,x0){
  const plot={x0,x1:x0+217,y0:1989.5,y1:2207.5},m={l:112,r:62,t:155,b:4};
  chartAt(plot,m,{type:'bubble',plugins:[{id:'corrgrid',
    beforeDatasetsDraw(ch){const g=ch.ctx,X=ch.scales.x,Y=ch.scales.y;g.save();g.strokeStyle='#D9D9D9';g.lineWidth=1;
      heatLabels.forEach((_,r)=>{for(let c=r;c<8;c++){const a=X.getPixelForValue(c),b=X.getPixelForValue(c+1),t=Y.getPixelForValue(r),u=Y.getPixelForValue(r+1);g.strokeRect(a,t,b-a,u-t);}});
      g.fillStyle='#111';g.font='16px '+FONT;
      heatLabels.forEach((l,i)=>{const px=X.getPixelForValue(i),py=Y.getPixelForValue(i+.5);g.textAlign='right';g.textBaseline='middle';g.fillText(l,px-8,py-1);
        const cx=X.getPixelForValue(i+.5);g.save();g.translate(cx-2,Y.getPixelForValue(0)-12);g.rotate(-Math.PI/4);g.textAlign='left';g.fillText(l,0,0);g.restore();});
      g.restore();}}],
    data:{datasets:[{data:values.map(([r,c,v])=>({x:c+.5,y:r+.5,r:13*Math.sqrt(Math.abs(v))})),backgroundColor:values.map(([,,v])=>ramp(corrStops,v)),borderWidth:0,clip:false}]},
    options:{scales:{x:{display:false,type:'linear',min:0,max:8},y:{display:false,type:'linear',min:0,max:8,reverse:true}}}});
  const bx=x0+219.5;
  box(bx,1989.5,9.5,218,{background:'linear-gradient(to bottom,'+[1,.8,.6,.4,.2,0,-.2,-.4,-.6,-.8,-1].map(v=>ramp(corrStops,v)).join(',')+')'});
  corrScaleLabels.forEach((l,i)=>txt(bx+18,1990.5+21.7*i,l,{size:13.5,align:'center',color:'#111'}));
}
corrPanel(corrLow,964.5);
corrPanel(corrHigh,1361.5);
box(862.5,1807.5,378,19,stripSt);box(1279.6,1807.5,380,19,stripSt);
txt(1043.6,1816.5,'Low-risk group',{size:19.6,align:'center'});
txt(1470.5,1816.5,'High-risk group',{size:19.6,align:'center'});
</script></body></html>
